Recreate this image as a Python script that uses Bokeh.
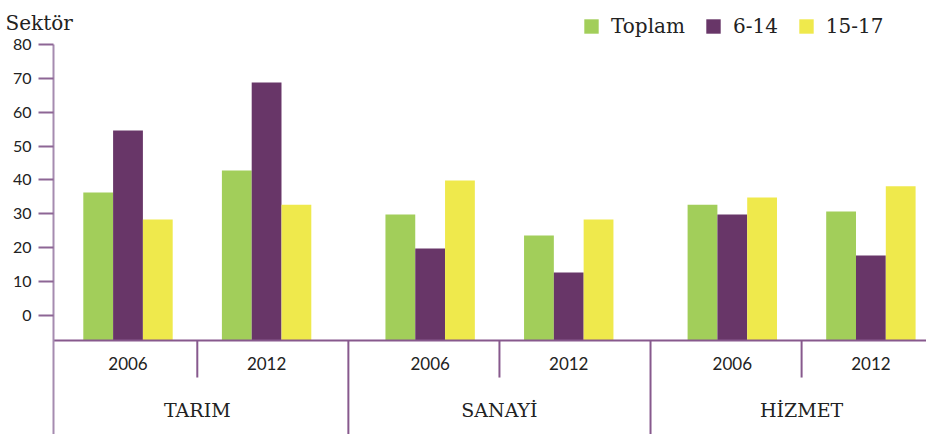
from bokeh.plotting import figure
from bokeh.models import ColumnDataSource, Range1d, FixedTicker, Legend, LegendItem, Label
from bokeh.embed import file_html
from bokeh.resources import INLINE
from bokeh.core.properties import value

# ---- data ----
sectors = ["TARIM", "SANAYİ", "HİZMET"]
years = ["2006", "2012"]
series_names = ["Toplam", "6-14", "15-17"]
toplam = [36.3, 42.8, 29.8, 23.6, 32.7, 30.7]
age_6_14 = [54.6, 68.7, 19.8, 12.7, 29.8, 17.7]
age_15_17 = [28.3, 32.7, 39.8, 28.3, 34.8, 38.1]
y_ticks = [0, 10, 20, 30, 40, 50, 60, 70, 80]
y_title = "Sektör"

# ---- layout / style ----
W, H = 926, 434
colors = ["#a2ce5a", "#683668", "#efe94c"]
SECTOR_GAP = 0.18
BAR_W = 0.215
PX_PER_UNIT = 138.6
PX_PER_VAL = 3.39
ZERO_PX = 315            # pixel row of the "0" tick
AXIS_PX = 53             # pixel column of the y axis
BASELINE = -7.4          # the drawn x-axis line sits below the 0 tick
YEAR_SEP_BOTTOM = -18.3
YEAR_LABEL_Y = -14.2
SECTOR_LABEL_Y = -28.0
SERIF = "DejaVu Serif"
SANS = "Lato"
AXIS_COLOR = "#a68bb0"
TICK_COLOR = "#8d6695"
SEP_COLOR = "#87598d"
TEXT_COLOR = "#222222"

centers = [s * (2 + SECTOR_GAP) + j for s in range(len(sectors)) for j in range(len(years))]
offsets = [-BAR_W, 0.0, BAR_W]
FIRST_PX = 127.5
X_START = centers[0] - FIRST_PX / PX_PER_UNIT
AXIS_X = centers[0] - (FIRST_PX - AXIS_PX) / PX_PER_UNIT
X_END = X_START + W / PX_PER_UNIT
Y_END = ZERO_PX / PX_PER_VAL
Y_START = Y_END - H / PX_PER_VAL

p = figure(width=W, height=H, output_backend="svg", toolbar_location=None,
           x_range=Range1d(X_START, X_END), y_range=Range1d(Y_START, Y_END),
           min_border_left=0, min_border_right=0, min_border_top=0, min_border_bottom=0)
p.outline_line_color = None
p.xgrid.visible = False
p.ygrid.visible = False
p.xaxis.visible = False
p.background_fill_color = "white"
p.border_fill_color = "white"

renderers = []
for vals, off, col in zip([toplam, age_6_14, age_15_17], offsets, colors):
    src = ColumnDataSource(dict(x=[c + off for c in centers], top=vals,
                                bottom=[BASELINE] * len(vals)))
    r = p.vbar(x="x", top="top", bottom="bottom", width=BAR_W, source=src,
               fill_color=col, line_color=None)
    renderers.append(r)

# y axis, drawn inside the frame at a fixed location
ya = p.yaxis[0]
ya.fixed_location = AXIS_X
ya.bounds = (Y_START, y_ticks[-1])
ya.ticker = FixedTicker(ticks=y_ticks)
ya.axis_line_color = AXIS_COLOR
ya.axis_line_width = 2
ya.major_tick_line_color = TICK_COLOR
ya.major_tick_line_width = 2
ya.major_tick_out = 15
ya.major_tick_in = 0
ya.minor_tick_line_color = None
ya.major_label_standoff = 7
ya.major_label_text_font = SANS
ya.major_label_text_font_size = "16px"
ya.major_label_text_color = TEXT_COLOR

# horizontal base line
p.segment(x0=[AXIS_X], x1=[X_END], y0=[BASELINE], y1=[BASELINE],
          line_color=SEP_COLOR, line_width=2)

# separators
year_seps = [s * (2 + SECTOR_GAP) + 0.5 for s in range(len(sectors))]
sector_seps = [s * (2 + SECTOR_GAP) - SECTOR_GAP / 2 - 0.5 for s in range(1, len(sectors))]
p.segment(x0=year_seps, x1=year_seps, y0=[BASELINE] * len(year_seps),
          y1=[YEAR_SEP_BOTTOM] * len(year_seps), line_color=SEP_COLOR, line_width=2)
p.segment(x0=sector_seps, x1=sector_seps, y0=[BASELINE] * len(sector_seps),
          y1=[Y_START] * len(sector_seps), line_color=SEP_COLOR, line_width=2)

# year labels
p.text(x=centers, y=[YEAR_LABEL_Y] * len(centers), text=years * len(sectors),
       text_font=value(SANS), text_font_size="17px", text_color=TEXT_COLOR,
       text_align="center", text_baseline="middle")
# sector labels
sector_centers = [s * (2 + SECTOR_GAP) + 0.5 for s in range(len(sectors))]
p.text(x=sector_centers, y=[SECTOR_LABEL_Y] * len(sectors), text=sectors,
       text_font=value(SERIF), text_font_size="19px", text_color=TEXT_COLOR,
       text_align="center", text_baseline="middle")

# title label
p.add_layout(Label(x=5, y=H - 22, x_units="screen", y_units="screen", text=y_title,
                   text_font=SERIF, text_font_size="20px", text_color=TEXT_COLOR,
                   text_baseline="alphabetic"))

legend = Legend(items=[LegendItem(label=n, renderers=[r]) for n, r in zip(series_names, renderers)],
                orientation="horizontal", location=(582, H - 38),
                glyph_width=18, glyph_height=18, label_height=18, label_standoff=11,
                spacing=19, padding=0, margin=0, border_line_color=None,
                background_fill_alpha=0, label_text_font=SERIF,
                label_text_font_size="20px", label_text_color=TEXT_COLOR)
p.add_layout(legend)

open("out.html", "w").write(file_html(p, INLINE))
